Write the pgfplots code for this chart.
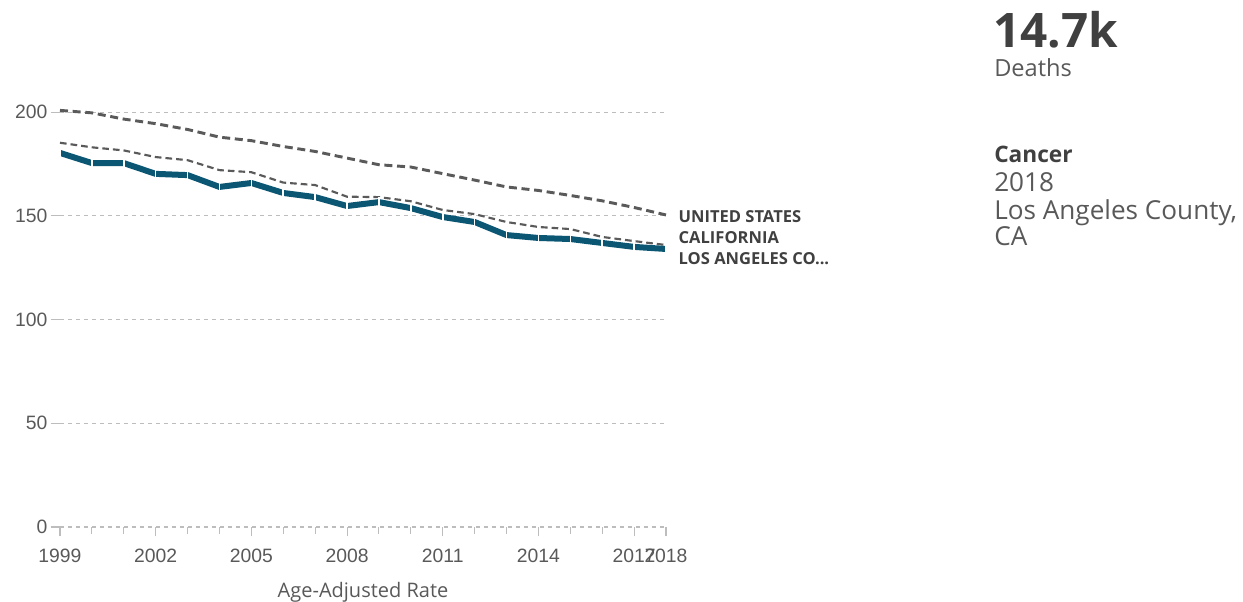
\documentclass[border=0pt]{standalone}
\usepackage{pgfplots}
\pgfplotsset{compat=1.18}
\usepackage{fontspec}
\setmainfont{Open Sans}
\newfontfamily\arialfont{Liberation Sans}

\definecolor{lablue}{HTML}{0B5673}
\definecolor{linegray}{HTML}{5A5A5A}
\definecolor{gridgray}{HTML}{BDBDBD}
\definecolor{textgray}{HTML}{595959}
\definecolor{darktext}{HTML}{404040}

% age-adjusted cancer death rates
\pgfplotstableread{
year us    ca    la
1999 200.8 185.2 180.3
2000 199.6 183.0 175.4
2001 196.6 181.5 175.4
2002 194.4 178.3 170.2
2003 191.6 176.8 169.6
2004 187.9 172.0 163.9
2005 186.2 171.0 165.8
2006 183.4 166.0 161.0
2007 181.0 164.8 159.0
2008 177.8 159.2 154.7
2009 174.6 159.0 156.6
2010 173.5 157.0 153.7
2011 170.3 152.8 149.4
2012 167.2 150.8 147.0
2013 163.9 147.0 140.7
2014 162.2 144.6 139.3
2015 159.8 143.6 138.8
2016 157.2 139.8 136.9
2017 154.0 137.8 135.0
2018 150.4 135.9 134.0
}\rates

\begin{document}
\begin{tikzpicture}
\useasboundingbox (0,0) rectangle (932.25pt,450.75pt);
\begin{axis}[
    at={(45pt,55.5pt)}, anchor=south west,
    scale only axis,
    width=454.5pt, height=319pt,
    xmin=1999, xmax=2018,
    ymin=0, ymax=205,
    clip=false,
    axis x line=bottom, axis y line=left,
    x axis line style={draw=none, -},
    y axis line style={draw=none, -},
    xtick={1999,2002,2005,2008,2011,2014,2017,2018},
    minor xtick={2000,2001,2003,2004,2006,2007,2009,2010,2012,2013,2015,2016},
    ytick={0,50,100,150,200},
    tick align=outside,
    major tick length=7pt,
    minor tick length=5pt,
    tick style={gridgray, line width=0.8pt},
    ymajorgrids=true,
    major grid style={gridgray, line width=0.8pt, dash pattern=on 3pt off 3pt},
    /pgf/number format/assume math mode=true,
    /pgf/number format/1000 sep={},
    ticklabel style={font=\arialfont\fontsize{14.5}{17}\selectfont, text=textgray},
    xticklabel style={yshift=-6pt},
    yticklabel style={xshift=1pt},
    xlabel={Age-Adjusted Rate},
    xlabel style={font=\fontsize{15}{18}\selectfont, text=textgray, yshift=-8pt},
]
\addplot[linegray, line width=2.2pt, dash pattern=on 6pt off 3.5pt] table[x=year, y=us] {\rates};
\addplot[linegray, line width=1.6pt, dash pattern=on 5pt off 3pt] table[x=year, y=ca] {\rates};
\addplot[lablue, line width=4.5pt, mark=|, mark size=3.5pt,
    mark options={white, line width=1.2pt}] table[x=year, y=la] {\rates};

\node[anchor=west, font=\bfseries\fontsize{12.4}{14}\selectfont, text=darktext]
    at (axis cs:2018.25,149.4) {UNITED STATES};
\node[anchor=west, font=\bfseries\fontsize{12.4}{14}\selectfont, text=darktext]
    at (axis cs:2018.25,139.3) {CALIFORNIA};
\node[anchor=west, font=\bfseries\fontsize{12.4}{14}\selectfont, text=darktext]
    at (axis cs:2018.25,129.2) {LOS ANGELES CO...};
\end{axis}

\node[anchor=base west, inner sep=0pt, text=darktext, font=\bfseries\fontsize{35.7}{42}\selectfont]
    at (744.75pt,414.75pt) {14.7k};
\node[anchor=base west, inner sep=0pt, text=textgray, font=\fontsize{17.7}{21}\selectfont]
    at (745.5pt,393pt) {Deaths};
\node[anchor=base west, inner sep=0pt, text=darktext, font=\bfseries\fontsize{17}{20}\selectfont]
    at (745.5pt,328.5pt) {Cancer};
\node[anchor=base west, inner sep=0pt, text=textgray, font=\fontsize{19.6}{23}\selectfont]
    at (745.5pt,306.75pt) {2018};
\node[anchor=base west, inner sep=0pt, text=textgray, font=\fontsize{19.6}{23}\selectfont]
    at (745.5pt,286.5pt) {Los Angeles County,};
\node[anchor=base west, inner sep=0pt, text=textgray, font=\fontsize{19.6}{23}\selectfont]
    at (745.5pt,266.25pt) {CA};
\end{tikzpicture}
\end{document}
